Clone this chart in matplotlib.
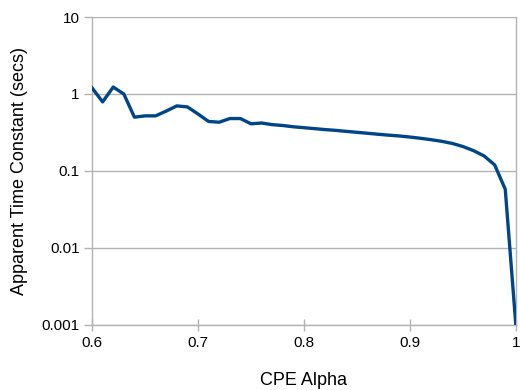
import numpy as np
import matplotlib
matplotlib.use("Agg")
import matplotlib.pyplot as plt
from matplotlib.ticker import FixedLocator, FixedFormatter, NullLocator

plt.rcParams['font.family'] = ['Liberation Sans', 'DejaVu Sans']

alpha = [0.60, 0.61, 0.62, 0.63, 0.64, 0.65, 0.66, 0.67, 0.68, 0.69,
         0.70, 0.71, 0.72, 0.73, 0.74, 0.75, 0.76, 0.77, 0.78, 0.79,
         0.80, 0.81, 0.82, 0.83, 0.84, 0.85, 0.86, 0.87, 0.88, 0.89,
         0.90, 0.91, 0.92, 0.93, 0.94, 0.95, 0.96, 0.97, 0.98, 0.99, 1.00]
tau = [1.20, 0.79, 1.23, 1.00, 0.50, 0.52, 0.52, 0.60, 0.70, 0.68,
       0.55, 0.44, 0.43, 0.48, 0.48, 0.41, 0.42, 0.40, 0.39, 0.375,
       0.365, 0.355, 0.345, 0.337, 0.327, 0.318, 0.309, 0.300, 0.292, 0.285,
       0.276, 0.266, 0.255, 0.243, 0.228, 0.208, 0.184, 0.157, 0.12, 0.058, 0.001]

yticks = [0.001, 0.01, 0.1, 1, 10]
ytick_labels = ["0.001", "0.01", "0.1", "1", "10"]
xticks = [0.6, 0.7, 0.8, 0.9, 1.0]
xtick_labels = ["0.6", "0.7", "0.8", "0.9", "1"]

grey = "#b3b3b3"

fig = plt.figure(figsize=(5.2, 3.9), dpi=100)
ax = fig.add_axes([0.177, 0.1667, 0.815, 0.7897])

ax.plot(alpha, tau, color="#004586", lw=2.4, solid_joinstyle="round", zorder=3)

ax.set_yscale("log")
ax.set_xlim(0.6, 1.0)
ax.set_ylim(0.001, 10)
ax.yaxis.set_major_locator(FixedLocator(yticks))
ax.yaxis.set_major_formatter(FixedFormatter(ytick_labels))
ax.yaxis.set_minor_locator(NullLocator())
ax.set_xticks(xticks)
ax.set_xticklabels(xtick_labels)

ax.grid(axis="y", color=grey, lw=1)
for s in ax.spines.values():
    s.set_color(grey)
    s.set_linewidth(1)
ax.spines["top"].set_visible(False)
ax.tick_params(axis="both", colors=grey, labelcolor="black", labelsize=11,
               width=1)
ax.tick_params(axis="x", direction="inout", length=8, pad=4)
ax.tick_params(axis="y", direction="out", length=6, pad=3)

ax.set_xlabel("CPE Alpha", fontsize=13, labelpad=16)
ax.set_ylabel("Apparent Time Constant (secs)", fontsize=13, labelpad=10)

fig.savefig("out.png", dpi=100)
